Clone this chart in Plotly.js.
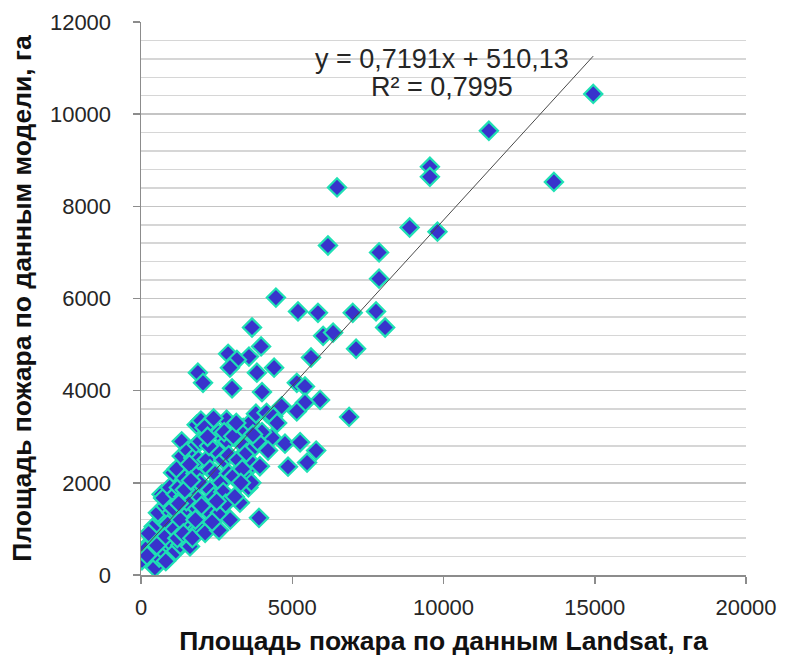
<!DOCTYPE html>
<html>
<head>
<meta charset="utf-8">
<script src="https://cdn.plot.ly/plotly-3.0.1.min.js"></script>
<style>html,body{margin:0;padding:0;background:#fff;}</style>
</head>
<body>
<div id="chart" style="width:786px;height:660px;"></div>
<script>
// Площадь пожара по данным Landsat, га (x) и по данным модели, га (y)
const landsatArea = [
  14950, 11500, 13650, 9550, 9550, 6480, 6180, 8880, 9800, 7870,
  7870, 4460, 5190, 5850, 7000, 7770, 8070, 3670, 6020, 6350,
  3970, 7110, 2880, 3570, 3170, 5620, 1880, 2050, 2940, 3830,
  4400, 3010, 4000, 5150, 5420, 5920, 5420, 5150, 6880, 4330,
  4760, 5260, 5790, 4860, 5490, 3900, 3270,
  30, 460, 350, 600, 740, 520, 300, 820, 150, 650,
  900, 420, 700, 950, 560, 800, 680, 1000, 880, 250,
  1000, 780, 520, 1150, 730, 1060, 200, 950, 1150, 1300, 1450,
  1180, 1180, 1250, 1345, 1345, 1400, 1450, 1500, 1550, 1620,
  1620, 1680, 1700, 1730, 1750, 1800, 1840, 1840, 1890, 1950,
  1900, 1050, 1100, 1200, 1300, 1400, 1500, 1600, 1700, 1800,
  1950, 1250, 1450, 1650, 1950, 1980,
  2120, 2170, 2200, 2280, 2280, 2350, 2400, 2450, 2500, 2580,
  2560, 2610, 2650, 2720, 2720, 2800, 2830, 2850, 2900, 2950,
  2100, 2250, 2400, 2350, 2750, 2000, 2500, 2900, 2200,
  3050, 3050, 3100, 3200, 3380, 3400, 3490, 3490, 3550, 3600,
  3700, 3770, 3800, 3930, 4000, 4150, 4200, 4370, 4650, 3150,
  3350, 3650, 3850, 3700, 3300, 4500
];
const modelArea = [
  10440, 9640, 8530, 8860, 8640, 8410, 7150, 7540, 7450, 7000,
  6430, 6020, 5720, 5690, 5690, 5720, 5370, 5370, 5190, 5260,
  4960, 4910, 4800, 4740, 4670, 4720, 4390, 4170, 4500, 4390,
  4500, 4050, 3970, 4170, 4090, 3800, 3740, 3550, 3430, 2980,
  2850, 2880, 2700, 2350, 2440, 1240, 1570,
  320, 160, 520, 380, 520, 820, 700, 300, 560, 900,
  650, 1050, 1200, 1000, 1350, 1500, 1750, 1350, 1100, 900,
  700, 820, 640, 520, 1670, 2220, 420, 1900, 1750, 650, 780,
  2300, 1500, 1900, 2900, 2580, 1700, 2100, 1300, 2700, 1130,
  620, 900, 1900, 2540, 1500, 2200, 3260, 2830, 1640, 1000,
  2500, 1450, 1000, 800, 1200, 900, 1600, 2400, 800, 1200,
  2000, 1550, 1850, 2050, 2900, 3350,
  915, 2500, 1400, 1850, 2290, 3100, 1700, 2200, 2700, 970,
  3080, 1350, 2000, 1800, 2500, 1550, 3370, 2900, 2200, 1200,
  3200, 2800, 3400, 1150, 3100, 1500, 1600, 2600, 3000,
  3010, 2140, 1700, 2500, 3190, 2800, 2110, 2650, 1900, 3300,
  2400, 2790, 3500, 2360, 3100, 3520, 2700, 3440, 3660, 3300,
  2300, 2000, 2900, 3050, 2000, 3300
];
// Линейный тренд (Excel): y = 0,7191x + 510,13; R² = 0,7995
const trendSlope = 0.7191;
const trendIntercept = 510.13;
const equationText = "y = 0,7191x + 510,13";
const r2Text = "R² = 0,7995";
const xTickVals = [0, 5000, 10000, 15000, 20000];
const yTickVals = [0, 2000, 4000, 6000, 8000, 10000, 12000];

const xMax = Math.max(...landsatArea);
const trendX = [0, xMax];
const trendY = trendX.map(v => trendSlope * v + trendIntercept);

const FONT = "'Liberation Sans', Arial, sans-serif";

const traces = [
  {
    type: 'scatter', mode: 'markers',
    x: landsatArea, y: modelArea,
    marker: {symbol: 'diamond', size: 14, color: '#3833CC',
             line: {color: '#1FE0B4', width: 2.2}},
    hoverinfo: 'x+y'
  },
  {
    type: 'scatter', mode: 'lines',
    x: trendX, y: trendY,
    line: {color: '#4a4a4a', width: 1},
    hoverinfo: 'skip'
  }
];

const layout = {
  width: 786, height: 660,
  margin: {l: 141, r: 40, t: 22, b: 85},
  paper_bgcolor: '#fff', plot_bgcolor: '#fff',
  showlegend: false,
  font: {family: FONT, color: '#262626'},
  xaxis: {
    range: [0, 20000], tickvals: xTickVals, ticktext: xTickVals.map(String),
    showgrid: false, zeroline: false,
    showline: true, linecolor: '#8c8c8c', linewidth: 1.5,
    ticks: 'outside', ticklen: 7, tickcolor: '#8c8c8c', tickwidth: 1.5,
    tickfont: {size: 22, family: FONT, color: '#262626'},
    ticklabelstandoff: 5,
    automargin: false,
    title: {text: '<b>Площадь пожара по данным Landsat, га</b>',
            font: {size: 26.5, family: FONT, color: '#111'}, standoff: 12}
  },
  yaxis: {
    range: [0, 12000], tickvals: yTickVals, ticktext: yTickVals.map(String),
    showgrid: true, gridcolor: '#c4c4c4', gridwidth: 1.5,
    minor: {dtick: 400, tick0: 0, showgrid: true, gridcolor: '#d6d6d6', gridwidth: 1.5},
    zeroline: false,
    showline: true, linecolor: '#8c8c8c', linewidth: 1.5,
    ticks: 'outside', ticklen: 7, tickcolor: '#8c8c8c', tickwidth: 1.5,
    tickfont: {size: 22, family: FONT, color: '#262626'},
    ticklabelstandoff: 17,
    automargin: false,
    title: {text: '<b>Площадь пожара по данным модели, га</b>',
            font: {size: 26.5, family: FONT, color: '#111'}, standoff: 10}
  },
  annotations: [
    {x: 9950, y: 11200, xref: 'x', yref: 'y', text: equationText, showarrow: false,
     font: {size: 27, family: FONT, color: '#262626'}},
    {x: 9950, y: 10600, xref: 'x', yref: 'y', text: r2Text, showarrow: false,
     font: {size: 27, family: FONT, color: '#262626'}}
  ]
};

Plotly.newPlot('chart', traces, layout, {staticPlot: true, displayModeBar: false});
</script>
</body>
</html>
